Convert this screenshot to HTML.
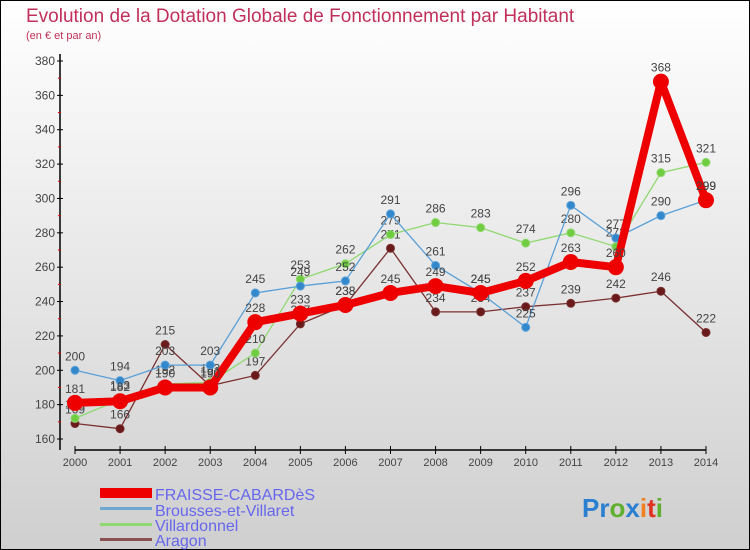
<!DOCTYPE html>
<html><head><meta charset="utf-8"><style>
body{margin:0;width:750px;height:550px;overflow:hidden}
svg{display:block;font-family:"Liberation Sans",sans-serif}
</style></head><body>
<svg width="750" height="550">
<defs><linearGradient id="bg" x1="0" y1="0" x2="0" y2="1"><stop offset="0" stop-color="#ffffff"/><stop offset="1" stop-color="#cfcfcf"/></linearGradient></defs>
<rect x="0.5" y="0.5" width="749" height="549" fill="url(#bg)" stroke="#000"/>
<text x="26" y="22" font-size="19" fill="#c0305a">Evolution de la Dotation Globale de Fonctionnement par Habitant</text>
<text x="26" y="39" font-size="11" fill="#c0305a">(en € et par an)</text>
<g id="axes"></g><g id="series"></g>
<g font-size="16" fill="#6666ee">
<rect x="100" y="488" width="52" height="10" fill="#ee0000"/>
<text x="155" y="500">FRAISSE-CABARDèS</text>
<rect x="100" y="507" width="52" height="3" fill="#6fa8d0"/>
<text x="155" y="516">Brousses-et-Villaret</text>
<rect x="100" y="523" width="52" height="3" fill="#90d870"/>
<text x="155" y="531">Villardonnel</text>
<rect x="100" y="538" width="52" height="3" fill="#8b5050"/>
<text x="155" y="546">Aragon</text>
</g>
<g font-size="26" font-weight="bold">
<text x="582" y="517"><tspan fill="#2a7fd0">Pr</tspan><tspan fill="#60b030">o</tspan><tspan fill="#2a7fd0">x</tspan><tspan fill="#f08020">i</tspan><tspan fill="#e03020">t</tspan><tspan fill="#60b030">i</tspan></text>
</g>
</svg>
<script>
const years=[2000,2001,2002,2003,2004,2005,2006,2007,2008,2009,2010,2011,2012,2013,2014];
const yTicks=[160,180,200,220,240,260,280,300,320,340,360,380];
const fraisse=[181,182,190,190,228,233,238,245,249,245,252,263,260,368,299];
const brousses=[200,194,203,203,245,249,252,291,261,245,225,296,277,290,299];
const villardonnel=[172,183,192,193,210,253,262,279,286,283,274,280,272,315,321];
const aragon=[169,166,215,191,197,227,238,271,234,234,237,239,242,246,222];
const NS='http://www.w3.org/2000/svg';
const X=i=>75+i*(706-75)/(years.length-1);
const Y=v=>439-(v-160)*(439-61)/220;
function mk(t,a,p){const e=document.createElementNS(NS,t);for(const k in a)e.setAttribute(k,a[k]);p.appendChild(e);return e;}
const ax=document.getElementById('axes');
let l=mk('line',{x1:60,y1:54,x2:60,y2:450,stroke:'#000','stroke-width':1.5},ax);


l=mk('line',{x1:75,y1:450,x2:706,y2:450,stroke:'#000','stroke-width':1.5},ax);


yTicks.forEach((v,i)=>{
 mk('line',{x1:57,y1:Y(v),x2:63,y2:Y(v),stroke:'#000'},ax);
 if(i<yTicks.length-1)mk('line',{x1:58,y1:Y(v+10),x2:61,y2:Y(v+10),stroke:'#e00000'},ax);
 const t=mk('text',{x:55,y:Y(v)+4,'font-size':12,'text-anchor':'end',fill:'#444'},ax);t.textContent=v;
 
 
});
years.forEach((y,i)=>{
 mk('line',{x1:X(i),y1:446,x2:X(i),y2:454,stroke:'#000'},ax);
 const t=mk('text',{x:X(i),y:466,'font-size':11,'text-anchor':'middle',fill:'#444'},ax);t.textContent=y;
 
 
});
const sg=document.getElementById('series');
function series(d,name,color,w,r,dot){
 const g=mk('g',{},sg);
 
 
 mk('polyline',{points:d.map((v,i)=>X(i)+','+Y(v)).join(' '),fill:'none',stroke:color,'stroke-width':w,'stroke-linejoin':'round'},g);
 d.forEach((v,i)=>{
  const c=mk('circle',{cx:X(i),cy:Y(v),r:r,fill:dot,stroke:color,'stroke-width':1},g);
  
  
  const t=mk('text',{x:X(i),y:Y(v)-10,'font-size':12,'text-anchor':'middle',fill:'#444'},g);t.textContent=v;
  
  
 });
}
series(aragon,'aragon','#7a3030',1.3,4,'#6a1a1a');
series(villardonnel,'villardonnel','#90d870',1.3,4,'#70cc40');
series(brousses,'brousses','#5aa0d8',1.3,4,'#3388cc');
series(fraisse,'fraisse','#ee0000',8,7.5,'#ee0000');
</script>
</body></html>
